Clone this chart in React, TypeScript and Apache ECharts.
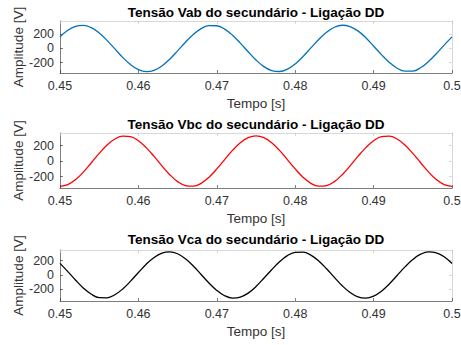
import React, { useEffect, useRef } from "react";
import * as echarts from "echarts";

const T_START = 0.45;
const T_STEP = 0.001;

const vab = [162, 255, 311, 324, 291, 217, 113, -7, -126, -227, -297, -325, -307, -246, -151, -34, 87, 196, 278, 320, 318, 271, 185, 74, -47, -162, -255, -311, -324, -291, -217, -113, 7, 126, 227, 297, 325, 307, 246, 151, 34, -87, -196, -278, -320, -318, -271, -185, -74, 47, 162];
const vbc = [-325, -302, -237, -138, -20, 100, 207, 285, 322, 315, 263, 174, 61, -61, -174, -263, -315, -322, -285, -207, -100, 20, 138, 237, 302, 325, 302, 237, 138, 20, -100, -207, -285, -322, -315, -263, -174, -61, 61, 174, 263, 315, 322, 285, 207, 100, -20, -138, -237, -302, -325];
const vca = [162, 47, -74, -185, -271, -318, -320, -278, -196, -87, 34, 151, 246, 307, 325, 297, 227, 126, 7, -113, -217, -291, -324, -311, -255, -162, -47, 74, 185, 271, 318, 320, 278, 196, 87, -34, -151, -246, -307, -325, -297, -227, -126, -7, 113, 217, 291, 324, 311, 255, 162];

const titles = [
  "Tensão Vab do secundário - Ligação DD",
  "Tensão Vbc do secundário - Ligação DD",
  "Tensão Vca do secundário - Ligação DD",
];
const colors = ["#0072BD", "#FF0000", "#000000"];
const yTicks = [-200, 0, 200];
const yRanges = [
  [-345, 385],
  [-345, 362],
  [-365, 350],
];
const xMin = 0.45;
const xMax = 0.5;
const xInterval = 0.01;
const xName = "Tempo [s]";
const yName = "Amplitude [V]";

const FONT = "'Liberation Sans', Arial, Helvetica, sans-serif";
const AXIS_COLOR = "#262626";
const LABEL_COLOR = "#333333";
const TICK_FONT = 12.5;
const NAME_FONT = 13.5;

export default function App() {
  const ref = useRef<HTMLDivElement>(null);
  useEffect(() => {
    if (!ref.current) return;
    const chart = echarts.init(ref.current, undefined, { renderer: "svg" });
    const seriesData = [vab, vbc, vca];
    const grids = [
      { left: 60, top: 21, width: 392, height: 52 },
      { left: 60, top: 133, width: 392, height: 55 },
      { left: 60, top: 250, width: 392, height: 51 },
    ];
    const titleTops = [5, 117, 232];

    const xAxes: any[] = [];
    const yAxes: any[] = [];
    const series: any[] = [];
    grids.forEach((g, i) => {
      xAxes.push({
        type: "value",
        gridIndex: i,
        min: xMin,
        max: xMax,
        interval: xInterval,
        name: xName,
        nameLocation: "middle",
        nameGap: 23,
        nameMoveOverlap: false,
        nameTextStyle: { fontFamily: FONT, fontSize: NAME_FONT, color: LABEL_COLOR },
        axisLine: { show: true, onZero: false, lineStyle: { color: AXIS_COLOR, width: 0.6 } },
        axisTick: { show: true, inside: true, length: 3, lineStyle: { color: AXIS_COLOR, width: 0.6 } },
        axisLabel: {
          margin: 6,
          fontFamily: FONT,
          fontSize: TICK_FONT,
          color: LABEL_COLOR,
          formatter: (v: number) => String(parseFloat(v.toFixed(2))),
        },
        splitLine: { show: false },
      });
      xAxes.push({
        type: "value",
        gridIndex: i,
        position: "top",
        min: xMin,
        max: xMax,
        interval: xInterval,
        axisLine: { show: true, onZero: false, lineStyle: { color: "#bdbdbd", width: 0.6 } },
        axisTick: { show: true, inside: true, length: 3, lineStyle: { color: "#bdbdbd", width: 0.6 } },
        axisLabel: { show: false },
        splitLine: { show: false },
      });
      yAxes.push({
        type: "value",
        gridIndex: i,
        min: yRanges[i][0],
        max: yRanges[i][1],
        name: yName,
        nameLocation: "middle",
        nameGap: 35,
        nameMoveOverlap: false,
        nameTextStyle: { fontFamily: FONT, fontSize: NAME_FONT, color: LABEL_COLOR },
        axisLine: { show: true, onZero: false, lineStyle: { color: AXIS_COLOR, width: 0.6 } },
        axisTick: { show: true, inside: true, length: 3, customValues: yTicks, lineStyle: { color: AXIS_COLOR, width: 0.6 } },
        axisLabel: {
          margin: 6,
          fontFamily: FONT,
          fontSize: TICK_FONT,
          color: LABEL_COLOR,
          customValues: yTicks,
        },
        splitLine: { show: false },
      });
      yAxes.push({
        type: "value",
        gridIndex: i,
        position: "right",
        min: yRanges[i][0],
        max: yRanges[i][1],
        axisLine: { show: true, onZero: false, lineStyle: { color: "#bdbdbd", width: 0.6 } },
        axisTick: { show: true, inside: true, length: 3, customValues: yTicks, lineStyle: { color: "#bdbdbd", width: 0.6 } },
        axisLabel: { show: false },
        splitLine: { show: false },
      });
      series.push({
        type: "line",
        xAxisIndex: i * 2,
        yAxisIndex: i * 2,
        data: seriesData[i].map((v, k) => [T_START + k * T_STEP, v]),
        showSymbol: false,
        smooth: 0.4,
        lineStyle: { color: colors[i], width: 1.3 },
        itemStyle: { color: colors[i] },
      });
    });

    chart.setOption({
      animation: false,
      backgroundColor: "#ffffff",
      title: titles.map((t, i) => ({
        text: t,
        left: 256,
        top: titleTops[i],
        padding: 0,
        textAlign: "center",
        textStyle: { fontFamily: FONT, fontSize: NAME_FONT, fontWeight: "bold", color: "#000" },
      })),
      grid: grids.map((g) => ({ ...g, containLabel: false, outerBoundsMode: "none" })),
      xAxis: xAxes,
      yAxis: yAxes,
      series,
    });
    return () => chart.dispose();
  }, []);
  return (
    <div
      ref={ref}
      style={{ position: "absolute", left: 0, top: 0, width: 461, height: 345, background: "#fff" }}
    />
  );
}
